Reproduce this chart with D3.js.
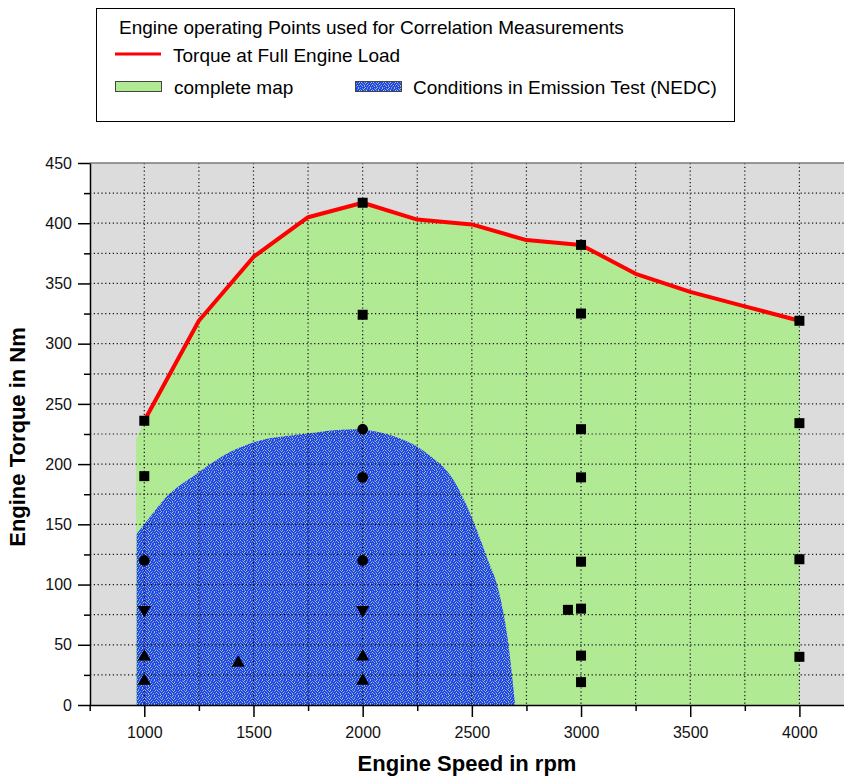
<!DOCTYPE html>
<html>
<head>
<meta charset="utf-8">
<script src="https://cdn.jsdelivr.net/npm/d3@7"></script>
<style>
  body { margin: 0; background: #fff; }
  svg { display: block; font-family: "Liberation Sans", Arial, sans-serif; }
</style>
</head>
<body>
<svg id="chart" width="844" height="778"></svg>
<script>
// Full load torque curve
const fullLoadRpm = [1000, 1250, 1500, 1750, 2000, 2250, 2500, 2750, 3000, 3250, 3500, 3750, 4000];
const fullLoadNm = [236, 319, 372, 405, 417, 403, 399, 386, 382, 358, 343, 331, 319];

// left edge of the complete map below the first full load point
const mapEdgeRpm = [962, 962];
const mapEdgeNm = [0, 220];

// NEDC operating region, upper boundary (filled down to 0 Nm)
const nedcRpm = [965, 1026, 1087, 1240, 1392, 1499, 1728, 1957, 2110, 2293, 2415, 2492, 2568, 2629, 2667, 2698];
const nedcNm = [142, 156, 170, 192, 210, 218, 225, 229, 225, 209, 187, 159, 123, 90, 51, 0];

// measurement points [rpm, Nm]
const squarePts = [
  [1000, 236], [1000, 190], [2000, 417], [2000, 324],
  [3000, 382], [3000, 325], [3000, 229], [3000, 189], [3000, 119],
  [3000, 80], [2940, 79], [3000, 41], [3000, 19],
  [4000, 319], [4000, 234], [4000, 121], [4000, 40]
];
const circlePts = [[1000, 120], [2000, 229], [2000, 189], [2000, 120]];
const triDownPts = [[1000, 79], [2000, 79]];
const triUpPts = [[1000, 40], [1000, 20], [1430, 35], [2000, 40], [2000, 20]];

const xMajor = [1000, 1500, 2000, 2500, 3000, 3500, 4000];
const xMinor = [750, 1250, 1750, 2250, 2750, 3250, 3750, 4250];
const yMajor = [0, 50, 100, 150, 200, 250, 300, 350, 400, 450];
const yMinor = [25, 75, 125, 175, 225, 275, 325, 375, 425];
const xGrid = [1000, 1250, 1500, 1750, 2000, 2250, 2500, 2750, 3000, 3250, 3500, 3750, 4000];
const yGrid = [25, 50, 75, 100, 125, 150, 175, 200, 225, 250, 275, 300, 325, 350, 375, 400, 425];

const svg = d3.select("#chart");
const plot = { left: 90, top: 163, bottom: 705 };

const x = d3.scaleLinear().domain([750, 4250]).range([89.7, 854]);
const y = d3.scaleLinear().domain([0, 450]).range([plot.bottom, plot.top]);

// fill textures
const defs = svg.append("defs");
function addPattern(id, rows, colors) {
  const p = defs.append("pattern")
    .attr("id", id)
    .attr("patternUnits", "userSpaceOnUse")
    .attr("width", rows[0].length)
    .attr("height", rows.length);
  rows.forEach((row, j) => {
    row.split("").forEach((c, i) => {
      p.append("rect")
        .attr("x", i).attr("y", j)
        .attr("width", 1).attr("height", 1)
        .attr("shape-rendering", "crispEdges")
        .attr("fill", colors[c]);
    });
  });
}
addPattern("greenTex", [
  "GGwGGGwGGwGG",
  "GwGGwGGGGGwG",
  "wGGGGwGwGGGG",
  "GGGwGGGGwGwG",
  "GwGGGwGGGGGw",
  "GGwGwGGwGwGG",
  "wGGGGGwGGGwG",
  "GGwGGwGGwGGG"
], { G: "#a6f082", w: "#d0d8c8" });
addPattern("blueTex", [
  "BBbBgBBbBBgB",
  "bBBgBBbBBbBB",
  "BgBBbBgBBBBg",
  "BBbBBgBBbBbB",
  "gBBbBBBgBBBB",
  "BbBBgBbBBgBb",
  "BBgBbBBBbBBB",
  "bBBBBgBbBBgB"
], { B: "#2242ea", b: "#7090f4", g: "#98d490" });

svg.append("clipPath").attr("id", "plotClip")
  .append("rect")
  .attr("x", plot.left).attr("y", plot.top)
  .attr("width", 844 - plot.left).attr("height", plot.bottom - plot.top);

const area = svg.append("g").attr("clip-path", "url(#plotClip)");

area.append("rect")
  .attr("x", plot.left).attr("y", plot.top)
  .attr("width", 844 - plot.left).attr("height", plot.bottom - plot.top)
  .attr("fill", "#dcdcdc");

const poly = d3.line().x((d) => x(d[0])).y((d) => y(d[1])).curve(d3.curveLinearClosed);

// complete map polygon
const mapPts = mapEdgeRpm.map((r, i) => [r, mapEdgeNm[i]])
  .concat(fullLoadRpm.map((r, i) => [r, fullLoadNm[i]]))
  .concat([[fullLoadRpm[fullLoadRpm.length - 1], 0]]);
area.append("path").attr("d", poly(mapPts)).attr("fill", "url(#greenTex)");

// NEDC region
const nedcArea = d3.area()
  .x((d, i) => x(nedcRpm[i]))
  .y0(y(0))
  .y1((d) => y(d))
  .curve(d3.curveMonotoneX);
area.append("path")
  .attr("d", nedcArea(nedcNm))
  .attr("fill", "url(#blueTex)");

// dotted grid
area.selectAll(".hgrid").data(yGrid).enter().append("line")
  .attr("x1", plot.left).attr("x2", 844)
  .attr("y1", (d) => y(d)).attr("y2", (d) => y(d))
  .attr("stroke", "#111").attr("stroke-width", 1.2)
  .attr("stroke-dasharray", "1.2 2.6");
area.selectAll(".vgrid").data(xGrid).enter().append("line")
  .attr("x1", (d) => x(d)).attr("x2", (d) => x(d))
  .attr("y1", plot.top).attr("y2", plot.bottom)
  .attr("stroke", "#111").attr("stroke-width", 1.2)
  .attr("stroke-dasharray", "1.2 2.6");

// top border
svg.append("line")
  .attr("x1", plot.left).attr("x2", 844)
  .attr("y1", plot.top).attr("y2", plot.top)
  .attr("stroke", "#7a7a7a").attr("stroke-width", 1.5);

// full load line
area.append("path")
  .attr("d", d3.line().x((d, i) => x(fullLoadRpm[i])).y((d) => y(d))(fullLoadNm))
  .attr("fill", "none")
  .attr("stroke", "#ff0000")
  .attr("stroke-width", 4)
  .attr("stroke-linejoin", "round");

// axes
const xAxis = svg.append("g").attr("transform", `translate(0,${plot.bottom})`);
xAxis.call(d3.axisBottom(x).tickValues(xMajor).tickFormat(d3.format("d"))
  .tickSize(12).tickPadding(10).tickSizeOuter(0));
xAxis.append("g").call(d3.axisBottom(x).tickValues(xMinor).tickSize(6).tickFormat("").tickSizeOuter(0))
  .select(".domain").remove();

const yAxis = svg.append("g").attr("transform", `translate(${plot.left},0)`);
yAxis.call(d3.axisLeft(y).tickValues(yMajor).tickFormat(d3.format("d"))
  .tickSize(12).tickPadding(6).tickSizeOuter(0));
yAxis.append("g").call(d3.axisLeft(y).tickValues(yMinor).tickSize(6).tickFormat("").tickSizeOuter(0))
  .select(".domain").remove();

svg.selectAll(".tick text")
  .attr("font-family", "Liberation Sans, Arial, sans-serif")
  .attr("font-size", 16)
  .attr("fill", "#111");
svg.selectAll(".domain, .tick line").attr("stroke", "#000").attr("stroke-width", 1.5);

// markers
const sym = (type, size) => d3.symbol().type(type).size(size)();
const markers = svg.append("g").attr("fill", "#000");
markers.selectAll(".sq").data(squarePts).enter().append("path")
  .attr("d", sym(d3.symbolSquare, 100))
  .attr("transform", (d) => `translate(${x(d[0])},${y(d[1])})`);
markers.selectAll(".ci").data(circlePts).enter().append("path")
  .attr("d", sym(d3.symbolCircle, 90))
  .attr("transform", (d) => `translate(${x(d[0])},${y(d[1])})`);
markers.selectAll(".tu").data(triUpPts).enter().append("path")
  .attr("d", sym(d3.symbolTriangle, 75))
  .attr("transform", (d) => `translate(${x(d[0])},${y(d[1])})`);
markers.selectAll(".td").data(triDownPts).enter().append("path")
  .attr("d", sym(d3.symbolTriangle, 75))
  .attr("transform", (d) => `translate(${x(d[0])},${y(d[1])}) rotate(180)`);

// axis titles
svg.append("text")
  .attr("x", 467).attr("y", 771)
  .attr("text-anchor", "middle")
  .attr("font-size", 22).attr("font-weight", "bold")
  .text("Engine Speed in rpm");
svg.append("text")
  .attr("transform", "translate(25,437) rotate(-90)")
  .attr("text-anchor", "middle")
  .attr("font-size", 22).attr("font-weight", "bold")
  .text("Engine Torque in Nm");

// legend
const lg = svg.append("g");
lg.append("rect")
  .attr("x", 96.5).attr("y", 8.5).attr("width", 638).attr("height", 113)
  .attr("fill", "#fff").attr("stroke", "#000").attr("stroke-width", 1);
lg.append("text").attr("x", 119).attr("y", 34).attr("font-size", 19)
  .text("Engine operating Points used for Correlation Measurements");
lg.append("line").attr("x1", 115).attr("x2", 161).attr("y1", 54).attr("y2", 54)
  .attr("stroke", "#ff0000").attr("stroke-width", 3);
lg.append("text").attr("x", 173).attr("y", 62).attr("font-size", 19)
  .text("Torque at Full Engine Load");
lg.append("rect").attr("x", 115.5).attr("y", 81.5).attr("width", 46).attr("height", 10)
  .attr("fill", "url(#greenTex)").attr("stroke", "#444").attr("stroke-width", 1);
lg.append("text").attr("x", 174).attr("y", 94).attr("font-size", 19)
  .text("complete map");
lg.append("rect").attr("x", 355.5).attr("y", 81.5).attr("width", 46).attr("height", 10)
  .attr("fill", "url(#blueTex)").attr("stroke", "#444").attr("stroke-width", 1);
lg.append("text").attr("x", 413).attr("y", 94).attr("font-size", 19)
  .text("Conditions in Emission Test (NEDC)");
</script>
</body>
</html>
